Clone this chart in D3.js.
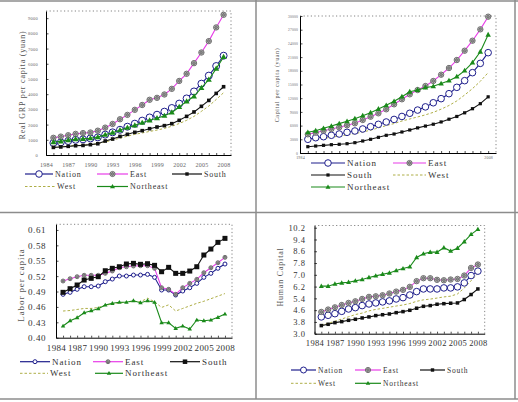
<!DOCTYPE html>
<html>
<head>
<meta charset="utf-8">
<script src="https://cdn.jsdelivr.net/npm/d3@7"></script>
<style>
  body { margin: 0; background: #fff; }
  svg { display: block; }
</style>
</head>
<body>
<svg id="chart" width="518" height="402"></svg>
<script>
// ---- data ----
const years = [1985, 1986, 1987, 1988, 1989, 1990, 1991, 1992, 1993, 1994, 1995, 1996,
               1997, 1998, 1999, 2000, 2001, 2002, 2003, 2004, 2005, 2006, 2007, 2008];
const tickYears = [1984, 1985, 1986, 1987, 1988, 1989, 1990, 1991, 1992, 1993, 1994, 1995, 1996,
                   1997, 1998, 1999, 2000, 2001, 2002, 2003, 2004, 2005, 2006, 2007, 2008];
const yearLabels = [1984, 1987, 1990, 1993, 1996, 1999, 2002, 2005, 2008];
const yearLabelsCapital = [1984, 2008];
const seriesNames = ["Nation", "East", "South", "West", "Northeast"];

// Real GRP per capita (yuan)
const gdpTicks = [0, 1000, 2000, 3000, 4000, 5000, 6000, 7000, 8000, 9000];
const gdpNation = [790, 830, 920, 1000, 1030, 1090, 1160, 1340, 1490, 1660, 1860, 2060, 2260, 2470, 2650, 2850, 3090, 3380, 3720, 4180, 4690, 5220, 5850, 6530];
const gdpEast = [1130, 1210, 1300, 1390, 1440, 1480, 1600, 1800, 2040, 2350, 2640, 2970, 3290, 3630, 3760, 3980, 4350, 4870, 5340, 6040, 6740, 7490, 8390, 9220];
const gdpSouth = [500, 530, 570, 610, 630, 680, 740, 920, 1050, 1220, 1360, 1490, 1600, 1730, 1840, 1930, 2060, 2280, 2540, 2830, 3200, 3590, 4050, 4490];
const gdpWest = [520, 550, 590, 630, 650, 690, 740, 860, 980, 1110, 1240, 1360, 1450, 1550, 1640, 1750, 1890, 2070, 2280, 2540, 2870, 3220, 3650, 4100];
const gdpNortheast = [850, 900, 980, 1040, 1060, 1100, 1180, 1330, 1470, 1640, 1790, 1950, 2120, 2280, 2420, 2580, 2800, 3160, 3530, 3860, 4410, 4950, 5680, 6450];

// Capital per capita (yuan)
const capTicks = [0, 3000, 6000, 9000, 12000, 15000, 18000, 21000, 24000, 27000, 30000];
const capNation = [3000, 3350, 3570, 3880, 4160, 4530, 4820, 5260, 5760, 6280, 6790, 7350, 8000, 8700, 9400, 10100, 11000, 11900, 12990, 14380, 15840, 17590, 19630, 21970];
const capEast = [4090, 4450, 4880, 5250, 5630, 6070, 6500, 7230, 7950, 8690, 9570, 10660, 11760, 12850, 13790, 14670, 15770, 17150, 18610, 20360, 22400, 24590, 27080, 29850];
const capSouth = [1380, 1530, 1680, 1820, 1900, 2040, 2260, 2630, 3000, 3430, 3870, 4160, 4600, 5040, 5500, 5900, 6300, 6800, 7400, 8000, 8800, 9700, 10800, 12300];
const capWest = [2800, 3000, 3200, 3450, 3700, 3950, 4250, 4600, 5000, 5500, 6000, 6450, 7000, 7450, 7900, 8350, 8900, 9600, 10400, 11400, 12700, 14100, 15700, 17600];
const capNortheast = [4530, 4880, 5400, 5910, 6430, 6940, 7520, 8170, 8830, 9640, 10440, 11320, 12330, 13420, 13800, 14300, 14600, 15200, 15840, 16710, 18020, 19780, 22180, 25900];

// Labor per capita
const laborTicks = [0.40, 0.43, 0.46, 0.49, 0.52, 0.55, 0.58, 0.61];
const laborNation = [0.4845, 0.4884, 0.4943, 0.4994, 0.4994, 0.5007, 0.5091, 0.5143, 0.5202, 0.5202, 0.5221, 0.5221, 0.5234, 0.5176, 0.4929, 0.4929, 0.4832, 0.4910, 0.4974, 0.5059, 0.5176, 0.5254, 0.5352, 0.5436];
const laborEast = [0.5105, 0.5150, 0.5189, 0.5216, 0.5216, 0.5216, 0.5254, 0.5300, 0.5364, 0.5383, 0.5397, 0.5403, 0.5403, 0.5352, 0.4974, 0.4943, 0.4845, 0.4974, 0.5059, 0.5137, 0.5266, 0.5364, 0.5461, 0.5566];
const laborSouth = [0.4884, 0.4955, 0.5027, 0.5124, 0.5157, 0.5189, 0.5305, 0.5352, 0.5383, 0.5436, 0.5449, 0.5430, 0.5442, 0.5410, 0.5286, 0.5371, 0.5254, 0.5254, 0.5299, 0.5383, 0.5611, 0.5728, 0.5858, 0.5936];
const laborWest = [0.452, 0.453, 0.455, 0.457, 0.457, 0.459, 0.463, 0.466, 0.468, 0.469, 0.471, 0.470, 0.477, 0.470, 0.459, 0.464, 0.452, 0.457, 0.462, 0.467, 0.471, 0.476, 0.481, 0.486];
const laborNortheast = [0.4228, 0.4331, 0.4390, 0.4487, 0.4526, 0.4565, 0.4637, 0.4670, 0.4690, 0.4690, 0.4721, 0.4682, 0.4721, 0.4690, 0.4292, 0.4292, 0.4183, 0.4228, 0.4169, 0.4345, 0.4331, 0.4345, 0.4397, 0.4462];

// Human capital
const humanTicks = [3.0, 3.8, 4.6, 5.4, 6.2, 7.0, 7.8, 8.6, 9.4, 10.2];
const humanNation = [4.14, 4.25, 4.36, 4.52, 4.68, 4.77, 4.91, 5.02, 5.09, 5.16, 5.23, 5.36, 5.45, 5.63, 5.86, 6.04, 6.04, 6.04, 6.11, 6.11, 6.18, 6.45, 6.95, 7.25];
const humanEast = [4.48, 4.64, 4.79, 4.95, 5.09, 5.20, 5.36, 5.50, 5.54, 5.61, 5.73, 5.86, 5.98, 6.18, 6.57, 6.77, 6.77, 6.66, 6.63, 6.68, 6.72, 6.95, 7.47, 7.70];
const humanSouth = [3.55, 3.64, 3.75, 3.82, 3.91, 3.98, 4.07, 4.14, 4.23, 4.29, 4.34, 4.43, 4.50, 4.59, 4.73, 4.86, 4.91, 5.00, 5.04, 5.07, 5.09, 5.32, 5.66, 6.04];
const humanWest = [3.60, 3.70, 3.85, 4.00, 4.15, 4.30, 4.40, 4.55, 4.65, 4.72, 4.80, 4.88, 4.95, 5.05, 5.20, 5.30, 5.35, 5.42, 5.50, 5.55, 5.70, 6.10, 6.60, 7.10];
const humanNortheast = [6.23, 6.23, 6.38, 6.45, 6.50, 6.59, 6.68, 6.82, 6.93, 7.04, 7.13, 7.29, 7.43, 7.54, 8.18, 8.43, 8.54, 8.54, 8.84, 8.61, 8.81, 9.25, 9.75, 10.09];

// ---- drawing ----
const svg = d3.select("#chart");
const font = "'Liberation Serif', serif";
const colors = { Nation: "#1e1e8c", East: "#e83ce8", South: "#111111", West: "#a5a532", Northeast: "#1a8a1a" };

// page frame (table borders)
const frame = svg.append("g").attr("stroke", "#8c8c8c").attr("stroke-width", 1.5);
frame.append("line").attr("x1", 0).attr("x2", 518).attr("y1", 1).attr("y2", 1);
frame.append("line").attr("x1", 0).attr("x2", 518).attr("y1", 212.5).attr("y2", 212.5);
frame.append("line").attr("x1", 0).attr("x2", 518).attr("y1", 399).attr("y2", 399);
frame.append("line").attr("x1", 256).attr("x2", 256).attr("y1", 0).attr("y2", 399);
frame.append("line").attr("x1", 515).attr("x2", 515).attr("y1", 0).attr("y2", 399);

function drawMarker(g, name, cx, cy, m) {
  if (name === "Nation") {
    g.append("circle").attr("cx", cx).attr("cy", cy).attr("r", m.circle)
      .attr("fill", "#fff").attr("stroke", colors.Nation).attr("stroke-width", 1);
  } else if (name === "East") {
    const r = m.east;
    g.append("circle").attr("cx", cx).attr("cy", cy).attr("r", r)
      .attr("fill", "#c4c4c4").attr("stroke", "#555").attr("stroke-width", 0.8);
    const k = r * 0.65;
    g.append("path")
      .attr("d", `M${cx},${cy - k}L${cx + k},${cy}L${cx},${cy + k}L${cx - k},${cy}Z`)
      .attr("fill", "#888").attr("stroke", "#444").attr("stroke-width", 0.5);
  } else if (name === "South") {
    const s = m.square;
    g.append("rect").attr("x", cx - s / 2).attr("y", cy - s / 2)
      .attr("width", s).attr("height", s).attr("fill", colors.South);
  } else if (name === "Northeast") {
    const s = m.tri;
    const h = s * 0.87;
    g.append("path")
      .attr("d", `M${cx},${cy - h * 0.6}L${cx + s / 2},${cy + h * 0.4}L${cx - s / 2},${cy + h * 0.4}Z`)
      .attr("fill", colors.Northeast);
  }
}

function drawPanel(p) {
  const g = svg.append("g");
  const x = d3.scaleLinear().domain([1984, 2009]).range([p.left, p.right]);
  const y = d3.scaleLinear().domain(p.yDomain).range([p.bottom, p.top]);

  // dotted top/right border
  g.append("path")
    .attr("d", `M${p.left},${p.top}H${p.right}V${p.bottom}`)
    .attr("fill", "none")
    .attr("stroke", "#777")
    .attr("stroke-width", 0.9)
    .attr("stroke-dasharray", "1.2,2.4");

  const yAxis = g.append("g")
    .attr("transform", `translate(${p.left},0)`)
    .call(d3.axisLeft(y)
      .tickValues(p.yTicks)
      .tickSizeInner(-2.5)
      .tickSizeOuter(0)
      .tickPadding(p.yPad)
      .tickFormat(p.yFormat));

  const xAxis = g.append("g")
    .attr("transform", `translate(0,${p.bottom})`)
    .call(d3.axisBottom(x)
      .tickValues(tickYears)
      .tickSizeInner(-2)
      .tickSizeOuter(0)
      .tickPadding(p.xPad)
      .tickFormat(d => p.xLabels.includes(d) ? d : ""));

  [yAxis, xAxis].forEach(a => {
    a.select(".domain").attr("stroke", "#000").attr("stroke-width", 1);
    a.selectAll(".tick line").attr("stroke", "#000").attr("stroke-width", 0.7);
  });
  yAxis.selectAll("text")
    .style("font-family", font)
    .style("font-size", p.yFont + "px")
    .attr("letter-spacing", 0.06 * p.yFont)
    .attr("fill", p.tickColor);
  xAxis.selectAll("text")
    .style("font-family", font)
    .style("font-size", p.xFont + "px")
    .attr("letter-spacing", 0.04 * p.xFont)
    .attr("fill", p.tickColor);

  // y axis title
  g.append("text")
    .attr("transform", `translate(${p.titleX},${p.titleY}) rotate(-90)`)
    .attr("text-anchor", "middle")
    .attr("dy", "0.35em")
    .style("font-family", font)
    .style("font-size", p.titleFont + "px")
    .attr("letter-spacing", 0.1 * p.titleFont)
    .attr("fill", "#555")
    .text(p.title);

  // series
  const line = d3.line()
    .x((d, i) => x(years[i]))
    .y(d => y(d));
  const order = ["West", "Nation", "East", "South", "Northeast"];
  order.forEach(name => {
    const values = p.series[name];
    g.append("path")
      .datum(values)
      .attr("fill", "none")
      .attr("stroke", colors[name])
      .attr("stroke-width", name === "West" ? 0.9 : 1.1)
      .attr("stroke-dasharray", name === "West" ? "2.5,2" : null)
      .attr("d", line);
    if (name !== "West") {
      const mg = g.append("g");
      values.forEach((v, i) => drawMarker(mg, name, x(years[i]), y(v), p.markers));
    }
  });

  // legend
  const lg = svg.append("g");
  seriesNames.forEach((name, i) => {
    const pos = p.legend[i];
    const item = lg.append("g");
    item.append("line")
      .attr("x1", pos[0]).attr("x2", pos[1])
      .attr("y1", pos[2]).attr("y2", pos[2])
      .attr("stroke", colors[name])
      .attr("stroke-width", name === "West" ? 0.9 : 1.2)
      .attr("stroke-dasharray", name === "West" ? "2.5,2" : null);
    if (name !== "West") drawMarker(item, name, (pos[0] + pos[1]) / 2, pos[2], p.legendMarkers);
    item.append("text")
      .attr("x", pos[1] + 2)
      .attr("y", pos[2])
      .attr("dy", "0.35em")
      .style("font-family", font)
      .style("font-size", p.legendFont + "px")
      .attr("letter-spacing", 0.1 * p.legendFont)
      .attr("fill", "#333")
      .text(name);
  });
}

// top-left: Real GRP per capita
drawPanel({
  left: 46, right: 231, top: 11, bottom: 155,
  yDomain: [0, 9470], yTicks: gdpTicks, yFormat: d3.format("d"), yPad: 8, yFont: 4.5,
  xLabels: yearLabels, xPad: 7.5, xFont: 6, tickColor: "#666",
  title: "Real GRP per capita (yuan)", titleX: 22, titleY: 85, titleFont: 8,
  series: { Nation: gdpNation, East: gdpEast, South: gdpSouth, West: gdpWest, Northeast: gdpNortheast },
  markers: { circle: 3.5, east: 2.7, square: 3.6, tri: 6 },
  legendMarkers: { circle: 3.3, east: 2.6, square: 3.4, tri: 5 },
  legend: [[25, 53, 174], [97, 128, 174], [172, 202, 174], [25, 55, 186.5], [97, 128, 186.5]],
  legendFont: 8
});

// top-right: Capital per capita
drawPanel({
  left: 300, right: 496, top: 16, bottom: 153,
  yDomain: [0, 30000], yTicks: capTicks, yFormat: d3.format("d"), yPad: 2, yFont: 3.6,
  xLabels: yearLabelsCapital, xPad: 3, xFont: 4, tickColor: "#666",
  title: "Capital per capita (yuan)", titleX: 277, titleY: 85, titleFont: 6,
  series: { Nation: capNation, East: capEast, South: capSouth, West: capWest, Northeast: capNortheast },
  markers: { circle: 3.3, east: 2.7, square: 3.2, tri: 5.5 },
  legendMarkers: { circle: 3.3, east: 2.6, square: 3.2, tri: 5 },
  legend: [[311, 345, 163], [393, 426, 163], [311, 345, 175], [393, 426, 175], [311, 345, 187]],
  legendFont: 9
});

// bottom-left: Labor per capita
drawPanel({
  left: 56, right: 232, top: 224.3, bottom: 337.7,
  yDomain: [0.40, 0.621], yTicks: laborTicks, yFormat: d3.format(".2f"), yPad: 10, yFont: 9,
  xLabels: yearLabels, xPad: 7, xFont: 9, tickColor: "#333",
  title: "Labor per capita", titleX: 21, titleY: 285, titleFont: 9,
  series: { Nation: laborNation, East: laborEast, South: laborSouth, West: laborWest, Northeast: laborNortheast },
  markers: { circle: 2, east: 2, square: 5, tri: 4.5 },
  legendMarkers: { circle: 2, east: 2, square: 4.5, tri: 4.5 },
  legend: [[20, 50, 361.7], [93, 123, 361.7], [170, 200, 361.7], [20, 48, 373.3], [95, 123, 373.3]],
  legendFont: 9
});

// bottom-right: Human capital
drawPanel({
  left: 314.5, right: 484.7, top: 225.5, bottom: 333.7,
  yDomain: [3.0, 10.35], yTicks: humanTicks, yFormat: d3.format(".1f"), yPad: 9, yFont: 8.5,
  xLabels: yearLabels, xPad: 6, xFont: 8.5, tickColor: "#333",
  title: "Human Capital", titleX: 280, titleY: 277, titleFont: 8,
  series: { Nation: humanNation, East: humanEast, South: humanSouth, West: humanWest, Northeast: humanNortheast },
  markers: { circle: 3.3, east: 2.7, square: 3.5, tri: 5 },
  legendMarkers: { circle: 3, east: 2.6, square: 3.4, tri: 4.5 },
  legend: [[291, 316, 370], [355, 381, 370], [420, 445, 370], [291, 316, 383.3], [355, 381, 383.3]],
  legendFont: 7.5
});
</script>
</body>
</html>
